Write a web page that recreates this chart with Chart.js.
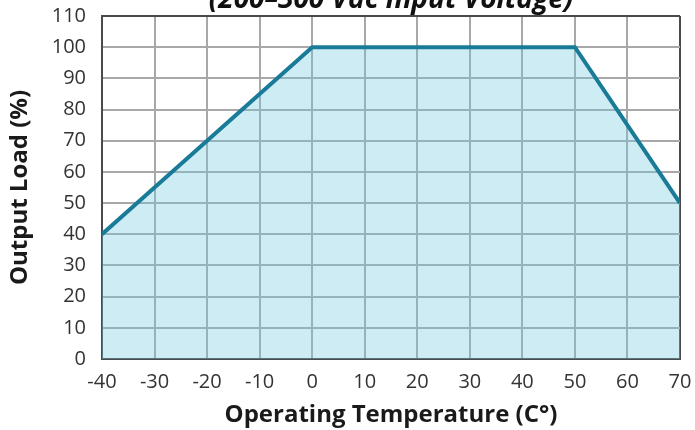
<!DOCTYPE html>
<html>
<head>
<meta charset="utf-8">
<script src="https://cdn.jsdelivr.net/npm/chart.js@4.4.0/dist/chart.umd.min.js"></script>
<style>
html,body{margin:0;padding:0;background:#fff;overflow:hidden;}
#wrap{width:695px;height:430px;position:relative;}
</style>
</head>
<body>
<div id="wrap"><canvas id="c" width="695" height="430"></canvas></div>
<script>
const chartTitle = "(200\u2013300 Vac Input Voltage)";
const xAxisTitle = "Operating Temperature (C\u00b0)";
const yAxisTitle = "Output Load (%)";
const temperatures = [-40, 0, 50, 70];
const outputLoad = [40, 100, 100, 50];
const xTicks = [-40, -30, -20, -10, 0, 10, 20, 30, 40, 50, 60, 70];
const yTicks = [0, 10, 20, 30, 40, 50, 60, 70, 80, 90, 100, 110];

const points = temperatures.map((t, i) => ({x: t, y: outputLoad[i]}));

const titlePlugin = {
  id: 'cutTitle',
  afterDraw(chart) {
    const ctx = chart.ctx;
    const a = chart.chartArea;
    ctx.save();
    ctx.font = "italic 700 28px 'Open Sans'";
    ctx.fillStyle = '#111';
    ctx.textAlign = 'center';
    ctx.textBaseline = 'alphabetic';
    ctx.fillText(chartTitle, (a.left + a.right) / 2, 8);
    ctx.restore();
  }
};

const GRID = '#a8a8a8';
const FRAME = '#4a4a4a';

new Chart(document.getElementById('c'), {
  type: 'line',
  data: {
    datasets: [{
      data: points,
      borderColor: '#1a7b98',
      borderWidth: 4,
      backgroundColor: 'rgba(112,201,221,0.35)',
      fill: 'origin',
      pointRadius: 0,
      tension: 0
    }]
  },
  options: {
    responsive: false,
    animation: false,
    layout: {padding: {top: 16, right: 15, left: 0, bottom: 0}},
    plugins: {legend: {display: false}, tooltip: {enabled: false}},
    scales: {
      x: {
        type: 'linear',
        min: xTicks[0],
        max: xTicks[xTicks.length - 1],
        afterBuildTicks(s) { s.ticks = xTicks.map(v => ({value: v})); },
        afterFit(s) { s.height = 71; s.paddingLeft = 0; s.paddingRight = 0; },
        grid: {
          color: c => (c.tick && c.tick.value === xTicks[xTicks.length - 1]) ? FRAME : GRID,
          lineWidth: 2,
          drawTicks: false
        },
        border: {color: FRAME, width: 2},
        ticks: {color: '#333', font: {family: 'Open Sans', size: 20}, padding: 11, maxRotation: 0},
        title: {display: true, text: xAxisTitle, color: '#1a1a1a', font: {family: 'Open Sans', size: 24, weight: 'bold'}, padding: {top: 0, bottom: 0}}
      },
      y: {
        min: yTicks[0],
        max: yTicks[yTicks.length - 1],
        afterBuildTicks(s) { s.ticks = yTicks.map(v => ({value: v})); },
        afterFit(s) { s.width = 102; s.paddingTop = 0; s.paddingBottom = 0; },
        grid: {
          color: c => (c.tick && c.tick.value === yTicks[yTicks.length - 1]) ? FRAME : GRID,
          lineWidth: 2,
          drawTicks: false
        },
        border: {color: FRAME, width: 2},
        ticks: {color: '#333', font: {family: 'Open Sans', size: 20}, padding: 16},
        title: {display: true, text: yAxisTitle, color: '#1a1a1a', font: {family: 'Open Sans', size: 24, weight: 'bold'}, padding: {top: 6, bottom: 4}}
      }
    }
  },
  plugins: [titlePlugin]
});
</script>
</body>
</html>
